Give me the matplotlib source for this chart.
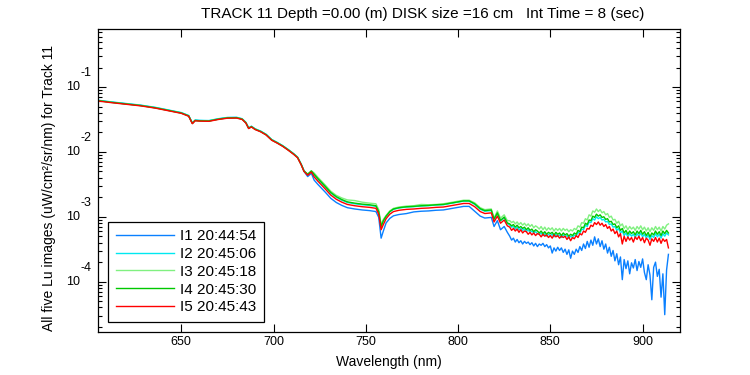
import matplotlib
matplotlib.use("Agg")
import matplotlib.pyplot as plt
import matplotlib.transforms as mtransforms
import numpy as np
from matplotlib.ticker import LogLocator, NullFormatter, FixedLocator

plt.rcParams['font.family'] = ['Liberation Sans', 'DejaVu Sans']

# wavelength grid (nm): smooth part, then the noisy red end
wl_smooth = [605, 612, 620, 628, 636, 644, 650, 654, 656, 657.5,
             660, 665, 670, 675, 680, 683, 685, 686.5, 688, 690,
             693, 696, 699, 702, 705, 708, 711, 713, 715, 716.5,
             718.5, 720.5, 722, 724, 726, 728, 731, 734, 737, 740,
             744, 748, 752, 755.5, 757, 758.3, 759.5, 761, 763, 765,
             768, 772, 776, 780, 784, 788, 792, 796, 800, 803,
             806, 809, 812, 814.5, 816.5, 818, 819.5, 821.3, 823, 825,
             826.7]
wl_noisy = [828, 829, 830, 831, 832, 833, 834, 835, 836, 837,
            838, 839, 840, 841, 842, 843, 844, 845, 846, 847,
            848, 849, 850, 851, 852, 853, 854, 855, 856, 857,
            858, 859, 860, 861, 862, 863, 864, 865, 866, 867,
            868, 869, 870, 871, 872, 873, 874, 875, 876, 877,
            878, 879, 880, 881, 882, 883, 884, 885, 886, 887,
            888, 889, 890, 891, 892, 893, 894, 895, 896, 897,
            898, 899, 900, 901, 902, 903, 904, 905, 906, 907,
            908, 909, 910, 911, 912, 913, 914]

# log10 of Lu (uW/cm^2/sr/nm)
i1_smooth = [-1.207, -1.232, -1.257, -1.282, -1.317, -1.362, -1.397, -1.442, -1.557, -1.512,
             -1.517, -1.52, -1.492, -1.472, -1.47, -1.492, -1.547, -1.632, -1.607, -1.647,
             -1.682, -1.732, -1.812, -1.857, -1.907, -1.967, -2.032, -2.082, -2.192, -2.30,
             -2.38, -2.33, -2.435, -2.50, -2.56, -2.62, -2.715, -2.78, -2.825, -2.86,
             -2.88, -2.895, -2.905, -2.92, -3.01, -3.33, -3.22, -3.095, -3.025, -2.985,
             -2.965, -2.951, -2.925, -2.915, -2.91, -2.90, -2.895, -2.875, -2.855, -2.84,
             -2.84, -2.915, -2.99, -3.02, -3.015, -3.01, -3.15, -3.06, -3.20, -3.15,
             -3.24]
i1_noisy = [-3.30, -3.36, -3.33, -3.39, -3.35, -3.40, -3.37, -3.42, -3.38, -3.41,
            -3.39, -3.43, -3.40, -3.45, -3.41, -3.46, -3.42, -3.44, -3.41, -3.46,
            -3.43, -3.48, -3.45, -3.56, -3.48, -3.53, -3.47, -3.52, -3.48, -3.55,
            -3.50, -3.58, -3.51, -3.64, -3.53, -3.58, -3.50, -3.55, -3.46, -3.52,
            -3.42, -3.49, -3.38, -3.47, -3.36, -3.44, -3.31, -3.42, -3.34, -3.46,
            -3.37, -3.50, -3.42, -3.56, -3.47, -3.61, -3.52, -3.68, -3.57, -3.74,
            -3.62, -3.97, -3.66, -3.80, -3.68, -3.88, -3.71, -3.79, -3.66, -3.83,
            -3.69, -3.78, -3.65, -3.86, -3.97, -3.74, -3.90, -4.28, -3.78, -3.70,
            -3.92, -3.81, -4.24, -3.88, -4.51, -3.82, -3.58]

i2_smooth = [-1.203, -1.228, -1.253, -1.278, -1.313, -1.358, -1.393, -1.438, -1.553, -1.508,
             -1.513, -1.516, -1.488, -1.468, -1.466, -1.488, -1.543, -1.628, -1.603, -1.643,
             -1.678, -1.728, -1.808, -1.853, -1.903, -1.963, -2.028, -2.078, -2.188, -2.288,
             -2.348, -2.298, -2.355, -2.42, -2.48, -2.54, -2.635, -2.70, -2.745, -2.78,
             -2.80, -2.815, -2.825, -2.84, -2.93, -3.14, -3.07, -2.995, -2.925, -2.885,
             -2.865, -2.851, -2.845, -2.835, -2.83, -2.82, -2.815, -2.795, -2.775, -2.76,
             -2.76, -2.81, -2.885, -2.915, -2.91, -2.905, -3.045, -2.955, -3.065, -3.015,
             -3.105]
i2_noisy = [-3.13, -3.16, -3.15, -3.19, -3.16, -3.20, -3.18, -3.21, -3.19, -3.23,
            -3.20, -3.24, -3.22, -3.25, -3.23, -3.26, -3.27, -3.25, -3.29, -3.26,
            -3.30, -3.27, -3.29, -3.27, -3.31, -3.27, -3.30, -3.28, -3.32, -3.28,
            -3.31, -3.29, -3.33, -3.30, -3.32, -3.28, -3.30, -3.24, -3.26, -3.19,
            -3.20, -3.13, -3.15, -3.08, -3.09, -3.03, -3.05, -3.00, -3.03, -3.01,
            -3.05, -3.04, -3.08, -3.07, -3.12, -3.11, -3.16, -3.15, -3.21, -3.18,
            -3.25, -3.22, -3.29, -3.25, -3.31, -3.26, -3.30, -3.27, -3.32, -3.26,
            -3.30, -3.25, -3.31, -3.27, -3.33, -3.28, -3.35, -3.29, -3.32, -3.26,
            -3.31, -3.27, -3.33, -3.26, -3.30, -3.25, -3.28]

i3_smooth = [-1.21, -1.235, -1.26, -1.285, -1.32, -1.365, -1.40, -1.445, -1.56, -1.515,
             -1.52, -1.523, -1.495, -1.475, -1.473, -1.495, -1.55, -1.635, -1.61, -1.65,
             -1.685, -1.735, -1.815, -1.86, -1.91, -1.97, -2.035, -2.085, -2.195, -2.295,
             -2.34, -2.29, -2.325, -2.39, -2.45, -2.51, -2.605, -2.67, -2.71, -2.74,
             -2.75, -2.775, -2.79, -2.80, -2.89, -3.12, -3.04, -2.98, -2.91, -2.87,
             -2.85, -2.836, -2.83, -2.81, -2.815, -2.81, -2.80, -2.78, -2.76, -2.745,
             -2.745, -2.785, -2.86, -2.89, -2.885, -2.88, -3.02, -2.91, -3.02, -2.97,
             -3.06]
i3_noisy = [-3.06, -3.09, -3.07, -3.11, -3.08, -3.12, -3.09, -3.13, -3.10, -3.14,
            -3.11, -3.15, -3.12, -3.17, -3.14, -3.16, -3.19, -3.15, -3.20, -3.16,
            -3.21, -3.17, -3.20, -3.17, -3.22, -3.18, -3.21, -3.18, -3.22, -3.18,
            -3.21, -3.19, -3.23, -3.20, -3.22, -3.18, -3.20, -3.14, -3.16, -3.09,
            -3.10, -3.03, -3.05, -2.97, -2.99, -2.91, -2.93, -2.88, -2.92, -2.89,
            -2.94, -2.92, -2.97, -2.95, -3.01, -2.99, -3.05, -3.04, -3.10, -3.07,
            -3.14, -3.11, -3.18, -3.14, -3.20, -3.15, -3.19, -3.16, -3.21, -3.15,
            -3.19, -3.14, -3.20, -3.16, -3.22, -3.17, -3.23, -3.17, -3.21, -3.15,
            -3.20, -3.16, -3.22, -3.15, -3.19, -3.13, -3.11]

i4_smooth = [-1.21, -1.235, -1.26, -1.285, -1.32, -1.365, -1.40, -1.445, -1.56, -1.515,
             -1.52, -1.523, -1.495, -1.475, -1.473, -1.495, -1.55, -1.635, -1.61, -1.65,
             -1.685, -1.735, -1.815, -1.86, -1.91, -1.97, -2.035, -2.085, -2.195, -2.295,
             -2.345, -2.295, -2.345, -2.41, -2.47, -2.53, -2.625, -2.69, -2.735, -2.77,
             -2.79, -2.805, -2.815, -2.83, -2.92, -3.15, -3.06, -2.99, -2.92, -2.88,
             -2.86, -2.846, -2.84, -2.83, -2.825, -2.815, -2.81, -2.79, -2.77, -2.755,
             -2.755, -2.80, -2.875, -2.905, -2.90, -2.895, -3.035, -2.94, -3.055, -3.005,
             -3.095]
i4_noisy = [-3.11, -3.14, -3.12, -3.16, -3.13, -3.17, -3.15, -3.18, -3.16, -3.20,
            -3.17, -3.21, -3.19, -3.23, -3.20, -3.22, -3.25, -3.22, -3.26, -3.23,
            -3.27, -3.24, -3.26, -3.24, -3.28, -3.24, -3.27, -3.25, -3.29, -3.25,
            -3.28, -3.26, -3.30, -3.27, -3.29, -3.25, -3.27, -3.21, -3.23, -3.16,
            -3.17, -3.10, -3.12, -3.05, -3.06, -2.99, -3.01, -2.96, -2.99, -2.97,
            -3.01, -3.00, -3.04, -3.03, -3.08, -3.07, -3.12, -3.11, -3.17, -3.14,
            -3.21, -3.18, -3.25, -3.21, -3.27, -3.22, -3.26, -3.23, -3.28, -3.22,
            -3.26, -3.21, -3.27, -3.23, -3.29, -3.24, -3.31, -3.25, -3.28, -3.22,
            -3.27, -3.23, -3.29, -3.22, -3.26, -3.21, -3.25]

i5_smooth = [-1.215, -1.24, -1.265, -1.29, -1.325, -1.37, -1.405, -1.45, -1.565, -1.52,
             -1.525, -1.528, -1.50, -1.48, -1.478, -1.50, -1.555, -1.64, -1.615, -1.655,
             -1.69, -1.74, -1.82, -1.865, -1.915, -1.975, -2.04, -2.09, -2.20, -2.30,
             -2.36, -2.31, -2.385, -2.45, -2.51, -2.57, -2.665, -2.73, -2.775, -2.81,
             -2.83, -2.845, -2.855, -2.87, -2.96, -3.20, -3.12, -3.03, -2.96, -2.92,
             -2.90, -2.886, -2.88, -2.87, -2.865, -2.855, -2.85, -2.83, -2.81, -2.795,
             -2.795, -2.845, -2.92, -2.95, -2.945, -2.94, -3.08, -2.99, -3.10, -3.05,
             -3.14]
i5_noisy = [-3.16, -3.21, -3.18, -3.22, -3.19, -3.24, -3.20, -3.25, -3.22, -3.23,
            -3.27, -3.24, -3.28, -3.25, -3.29, -3.26, -3.27, -3.31, -3.27, -3.30,
            -3.28, -3.32, -3.29, -3.33, -3.28, -3.31, -3.29, -3.33, -3.30, -3.32,
            -3.30, -3.35, -3.31, -3.37, -3.32, -3.34, -3.29, -3.32, -3.26, -3.28,
            -3.22, -3.24, -3.18, -3.19, -3.13, -3.15, -3.09, -3.12, -3.08, -3.13,
            -3.10, -3.15, -3.12, -3.18, -3.15, -3.22, -3.19, -3.26, -3.22, -3.31,
            -3.26, -3.42, -3.30, -3.38, -3.31, -3.36, -3.32, -3.39, -3.31, -3.35,
            -3.30, -3.37, -3.32, -3.40, -3.33, -3.36, -3.44, -3.34, -3.38, -3.32,
            -3.39, -3.33, -3.41, -3.34, -3.38, -3.35, -3.48]

labels = ['I1 20:44:54', 'I2 20:45:06', 'I3 20:45:18', 'I4 20:45:30', 'I5 20:45:43']
colors = ['#0a80ff', '#00e8f0', '#80f080', '#00c800', '#ff0000']
series = [(i1_smooth, i1_noisy), (i2_smooth, i2_noisy), (i3_smooth, i3_noisy),
          (i4_smooth, i4_noisy), (i5_smooth, i5_noisy)]
decades = [-1, -2, -3, -4]

wl = np.array(wl_smooth + wl_noisy)

fig = plt.figure(figsize=(7.5, 3.75), dpi=100)
ax = fig.add_axes([0.131, 0.116, 0.775, 0.807])

for (s, n), c, lab in zip(series, colors, labels):
    ax.semilogy(wl, 10 ** np.array(s + n), color=c, lw=1.0, label=lab)

ax.set_xlim(605, 920)
ax.set_ylim(1.7e-5, 0.79)
ax.xaxis.set_major_locator(FixedLocator([650, 700, 750, 800, 850, 900]))
ax.yaxis.set_major_locator(LogLocator(base=10, numticks=10))
ax.yaxis.set_major_formatter(NullFormatter())
ax.yaxis.set_minor_locator(LogLocator(base=10, subs=np.arange(2, 10), numticks=20))
ax.yaxis.set_minor_formatter(NullFormatter())
ax.tick_params(which='both', direction='in', top=True, right=True, labelsize=9, width=0.8)
ax.tick_params(which='major', length=6)
ax.tick_params(which='minor', length=3)
for sp in ax.spines.values():
    sp.set_linewidth(0.9)

# MATLAB style 10^-n labels: base and exponent at the same size
trans = mtransforms.blended_transform_factory(ax.transAxes, ax.transData)
trans_up = mtransforms.offset_copy(trans, fig=fig, x=1, y=14, units='dots')
for d in decades:
    ax.text(-0.0315, 10.0 ** d, '10', transform=trans, ha='right', va='center', fontsize=9)
    ax.text(-0.0315, 10.0 ** d, str(d), transform=trans_up, ha='left', va='center', fontsize=9)

leg = ax.legend(loc='lower left', bbox_to_anchor=(0.0167, 0.031), borderaxespad=0,
                fontsize=11, handlelength=3.8, handletextpad=0.4, labelspacing=0.25,
                fancybox=False, framealpha=1, edgecolor='black', borderpad=0.5)
leg.get_frame().set_linewidth(0.9)

fig.text(423 / 750, 1 - 14 / 375, 'TRACK 11 Depth =0.00 (m) DISK size =16 cm   Int Time = 8 (sec)',
         ha='center', va='center', fontsize=11)
fig.text(389 / 750, 1 - 362 / 375, 'Wavelength (nm)', ha='center', va='center', fontsize=10)
fig.text(49 / 750, 1 - 188 / 375, 'All five Lu images (uW/cm²/sr/nm) for Track 11',
         ha='center', va='center', rotation=90, fontsize=10)

fig.savefig('out.png', dpi=100)
